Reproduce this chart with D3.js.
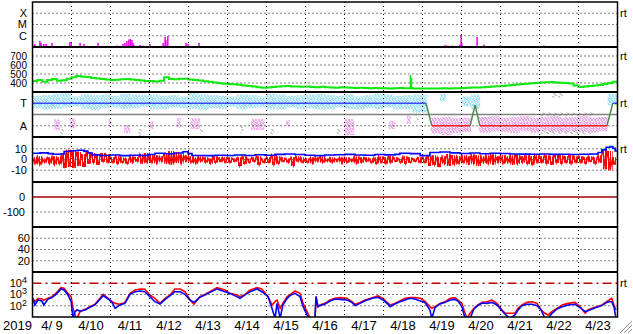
<!DOCTYPE html>
<html>
<head>
<meta charset="utf-8" />
<script src="https://d3js.org/d3.v7.min.js"></script>
<style>
  body { margin: 0; background: #fff; }
  svg text { font-family: "Liberation Sans", Arial, sans-serif; fill: #000; }
</style>
</head>
<body>
<svg id="chart"></svg>
<script>
// ---- data (time in days since 2019-04-09 00:00) ----
var dayLabels = ["4/ 9","4/10","4/11","4/12","4/13","4/14","4/15","4/16","4/17","4/18","4/19","4/20","4/21","4/22","4/23"];

// X-ray flux spikes above background, log10(W/m2)
var xrayTime = [0.00,0.06,0.19,0.22,0.29,0.35,0.50,0.96,0.99,1.22,1.32,1.68,2.17,2.32,2.37,2.42,2.47,2.51,2.55,2.58,2.60,2.76,2.83,3.01,3.35,3.40,3.42,3.47,3.94,3.99,4.27,9.86,10.58,10.65,10.76,10.96,10.99,11.01,11.40,11.58,11.99,13.12];
var xrayFlux = [-6.47,-6.73,-6.47,-6.64,-6.73,-6.73,-6.64,-6.56,-6.64,-6.64,-6.73,-6.64,-6.87,-6.73,-6.64,-6.47,-6.33,-6.29,-6.38,-6.64,-6.82,-6.82,-6.87,-6.73,-6.64,-6.11,-6.38,-6.02,-6.64,-6.73,-6.64,-6.91,-6.82,-6.87,-6.87,-6.78,-5.93,-6.64,-6.11,-6.78,-6.87,-6.87];

// solar wind speed (km/s), 3-hour samples
var speed = [
  422,433,414,433,444,425,430,448,
  463,478,470,467,455,450,444,440,
  433,436,441,444,438,433,428,422,
  422,418,425,463,445,441,448,446,
  440,433,428,420,414,405,397,392,
  389,385,380,372,367,360,352,348,
  350,355,360,364,367,362,360,358,
  360,356,354,358,352,350,348,352,
  350,346,344,348,345,342,344,343,
  341,340,342,344,341,343,340,339,
  339,338,340,339,341,340,342,343,
  345,348,350,350,352,356,360,365,
  368,372,378,383,388,393,397,400,
  405,408,410,406,402,400,395,372,
  356,360,367,372,378,390,400,414];
// short speed spikes
var spikeTime = [9.69, 9.72];
var spikeVal  = [490, 455];

// IMF longitude clouds [start, end, low deg, high deg]
var cyanCloud = [
  [0.00,0.25,275,375],[0.25,0.50,265,380],[0.50,0.75,270,390],[0.75,1.00,280,395],
  [1.00,1.25,290,370],[1.25,1.50,270,385],[1.50,1.75,260,380],[1.75,2.00,275,385],
  [2.00,2.25,280,375],[2.25,2.50,270,390],[2.50,2.75,275,385],[2.75,3.00,285,380],
  [3.00,3.25,265,385],[3.25,3.50,270,375],[3.50,3.75,280,380],[3.75,4.00,275,370],
  [4.00,4.25,270,395],[4.25,4.50,260,385],[4.50,4.75,275,380],[4.75,5.00,270,375],
  [5.00,5.25,285,370],[5.25,5.50,265,385],[5.50,5.75,275,380],[5.75,6.00,280,370],
  [6.00,6.25,270,390],[6.25,6.50,265,385],[6.50,6.75,280,375],[6.75,7.00,270,380],
  [7.00,7.25,275,385],[7.25,7.50,265,390],[7.50,7.75,270,380],[7.75,8.00,280,375],
  [8.00,8.25,270,385],[8.25,8.50,265,370],[8.50,8.75,275,380],[8.75,9.00,270,390],
  [9.00,9.25,280,385],[9.25,9.50,265,375],[9.50,9.75,270,380],[9.75,10.12,240,385],
  [10.45,10.60,330,390],[11.00,11.25,290,370],[11.25,11.48,270,385],[14.75,15.00,300,390]];
var pinkCloud = [
  [0.55,0.70,100,185],[0.95,1.10,115,195],[1.95,2.02,130,190],[2.35,2.50,75,140],
  [3.00,3.10,110,170],[3.70,3.80,120,200],[4.05,4.30,110,195],[5.60,5.95,100,190],
  [6.50,6.60,130,180],[8.00,8.25,60,190],[9.15,9.30,110,175],[9.60,9.70,150,215],
  [10.22,10.50,70,200],[10.50,10.75,60,205],[10.75,11.00,75,195],[11.00,11.25,85,200],
  [11.45,11.75,80,205],[11.75,12.00,90,210],[12.00,12.25,85,200],[12.25,12.50,75,205],
  [12.50,12.75,90,210],[12.75,13.00,80,200],[13.00,13.25,95,205],[13.25,13.50,85,210],
  [13.50,13.75,80,200],[13.75,14.00,90,205],[14.00,14.25,85,210],[14.25,14.50,80,200],
  [14.50,14.75,90,205]];
var grayCloud = [
  [0.70,0.80,60,120],[2.70,2.80,50,110],[4.30,4.40,70,120],[5.30,5.40,80,130],
  [6.10,6.20,60,110],[7.80,7.90,70,115],[9.85,9.95,180,225],[13.00,14.40,60,240],
  [13.30,13.60,360,400]];

// sector state line
var sectorTime = [0, 10.09, 10.24, 11.22, 11.35, 11.47, 14.73, 14.88, 15];
var sectorPhi  = [315, 315, 135, 135, 301, 135, 135, 315, 315];

// IMF Bt (nT)
var btTime = [0,0.19,0.40,0.53,0.71,0.81,0.96,1.17,1.32,1.42,1.53,1.73,1.99,2.24,2.50,2.76,2.96,3.14,3.40,3.65,3.86,3.99,4.09,4.42,4.68,4.94,5.19,5.45,5.71,5.96,6.22,6.47,6.73,6.99,7.24,7.50,7.76,8.01,8.27,8.53,8.78,9.04,9.29,9.42,9.68,9.94,10.19,10.45,10.71,10.96,11.22,11.47,11.73,11.99,12.24,12.50,12.76,13.01,13.27,13.53,13.78,14.04,14.29,14.50,14.60,14.71,14.81,14.88,14.94,15];
var btVal  = [5.8,6.2,5.5,4.9,5.2,7.5,8.2,8.6,7.8,6.0,4.3,3.8,4.2,3.6,4.0,3.8,4.6,5.8,5.4,6.0,7.3,5.5,3.8,3.6,4.0,3.7,4.2,3.8,4.4,4.0,4.8,5.2,4.6,4.0,3.6,4.2,4.5,4.8,4.2,4.0,4.6,4.3,4.8,5.8,5.5,3.6,6.5,7.0,6.2,5.6,6.0,5.4,5.8,5.6,5.2,5.0,4.9,5.2,4.8,4.9,4.6,4.9,5.2,6.5,9.0,11.5,12.0,10.5,8.0,8.0];

// IMF Bz envelope (nT), 3-hour bins
var bzHi = [
  2,3,1,2,3,2,6,9, 8,7,5,7,6,4,6,5, 2,3,2,1,3,2,5,6, 5,4,3,6,8,7,5,4,
  3,2,3,2,1,3,2,2, 2,1,2,3,1,2,3,1, 2,4,3,2,1,2,3,2, 1,2,2,3,1,2,1,2,
  2,1,3,2,2,1,2,3, 2,3,2,1,3,2,1,2, 2,3,4,2,3,5,4,3, 4,3,5,4,3,4,5,3,
  4,3,4,5,3,4,3,4, 3,4,3,5,4,3,4,3, 3,2,3,2,4,10,8,2];
var bzLo = [
  -4,-5,-3,-4,-5,-4,-8,-7, -8,-6,-7,-4,-3,-5,-2,-3, -3,-4,-3,-4,-3,-2,-4,-3, -3,-4,-2,-4,-5,-3,-4,-2,
  -3,-4,-2,-3,-4,-3,-2,-3, -3,-2,-6,-4,-3,-2,-5,-3, -3,-5,-4,-2,-3,-6,-2,-3, -3,-4,-2,-3,-2,-3,-2,-4,
  -3,-2,-4,-3,-2,-3,-4,-3, -4,-3,-2,-3,-4,-3,-2,-3, -3,-6,-5,-7,-4,-6,-5,-4, -3,-5,-4,-6,-3,-4,-5,-3,
  -4,-3,-5,-4,-3,-4,-5,-3, -3,-4,-5,-3,-4,-3,-4,-3, -3,-4,-2,-4,-3,-9,-10,-5];

// electron flux, log10
var fluxTime = [0.01,0.06,0.14,0.24,0.29,0.40,0.50,0.60,0.73,0.81,0.91,0.99,1.04,1.09,1.14,1.22,1.35,1.47,1.60,1.73,1.81,1.94,2.04,2.12,2.24,2.37,2.50,2.63,2.76,2.88,3.01,3.14,3.27,3.40,3.53,3.65,3.78,3.91,4.04,4.14,4.29,4.42,4.55,4.73,4.94,5.06,5.24,5.32,5.45,5.58,5.76,5.88,6.04,6.14,6.22,6.27,6.35,6.42,6.53,6.60,6.73,6.86,6.94,7.04,7.12,7.19,7.24,7.27,7.32,7.37,7.50,7.63,7.76,7.88,8.06,8.19,8.27,8.40,8.53,8.71,8.86,8.99,9.09,9.17,9.29,9.42,9.55,9.68,9.81,9.94,10.06,10.19,10.24,10.32,10.45,10.58,10.71,10.83,10.91,11.01,11.09,11.14,11.22,11.32,11.42,11.53,11.65,11.78,11.91,12.04,12.12,12.24,12.37,12.45,12.55,12.68,12.81,12.94,13.04,13.14,13.22,13.32,13.45,13.58,13.73,13.91,14.04,14.17,14.24,14.35,14.47,14.60,14.72,14.79,14.85,14.91,14.96];
var fluxRed  = [2.66,2.36,2.66,2.60,2.51,2.66,2.81,3.10,3.61,3.55,3.10,2.81,1.77,1.18,0.88,1.47,1.68,1.92,2.13,2.66,3.01,2.66,2.36,2.21,2.13,2.30,3.10,3.40,3.49,3.46,2.96,2.66,2.21,2.66,2.96,3.49,3.49,3.25,2.51,2.13,2.81,3.01,3.25,3.61,3.40,3.10,2.96,2.81,3.01,3.40,3.61,3.49,2.81,2.07,2.36,2.51,1.77,2.21,2.81,2.96,3.31,3.10,2.21,1.47,0.88,0.59,0.59,2.81,1.92,2.07,2.21,2.51,2.66,2.72,2.66,2.36,2.13,2.30,2.51,2.72,2.87,2.66,2.30,2.07,2.21,2.42,2.66,2.72,2.72,2.66,2.42,1.92,1.77,1.92,2.21,2.36,2.66,2.72,2.51,2.21,1.33,0.88,1.33,1.77,2.07,2.30,2.36,2.51,2.21,1.62,1.33,1.33,1.33,1.77,2.07,2.30,2.36,2.21,1.62,1.33,1.18,1.47,1.77,2.07,2.21,2.30,1.92,1.33,1.62,1.77,1.92,2.07,2.36,2.51,2.66,2.07,1.62];
var fluxBlue = [2.66,2.07,2.51,2.42,2.07,2.60,2.72,3.01,3.49,3.40,2.96,2.36,0.88,1.47,1.62,1.53,1.62,1.86,2.07,2.57,2.90,2.60,2.30,1.77,2.07,2.21,3.01,3.25,3.31,3.25,2.81,2.36,2.16,2.57,2.90,3.25,3.25,3.01,2.51,2.30,2.75,2.96,3.19,3.49,3.25,3.10,2.81,2.66,2.96,3.25,3.49,3.25,2.81,1.77,0.88,2.21,0.88,2.07,2.66,2.90,3.10,2.81,1.92,1.18,0.88,0.59,0.59,2.81,1.92,2.01,2.16,2.42,2.60,2.57,2.51,2.30,2.01,2.21,2.45,2.66,2.75,2.51,2.21,1.92,2.16,2.36,2.51,2.66,2.60,2.42,2.30,1.62,0.88,1.83,2.16,2.30,2.51,2.57,2.42,1.92,0.88,1.03,0.88,1.71,2.01,2.24,2.21,2.30,2.07,1.56,1.24,0.88,1.18,1.62,2.01,2.13,2.13,2.01,1.62,0.88,0.88,1.33,1.71,1.92,2.07,2.13,1.83,1.47,1.56,1.71,1.86,2.01,2.30,2.36,2.36,1.92,0.88];

// ---- layout ----
var width = 633, height = 334;
var plotL = 32.5, plotR = 617.5, plotT = 2, ph = 45;
function pTop(i) { return plotT + ph * i; }

var svg = d3.select("#chart").attr("width", width).attr("height", height);
var x = d3.scaleLinear().domain([0, 15]).range([plotL, plotR]);

var yX   = d3.scaleLinear().domain([-7, -3]).range([pTop(1), pTop(0)]);
var ySpd = d3.scaleLinear().domain([300, 800]).range([pTop(2), pTop(1)]);
var yPhi = d3.scaleLinear().domain([45, 405]).range([pTop(3), pTop(2)]);
var yB   = d3.scaleLinear().domain([-21, 21]).range([pTop(4), pTop(3)]);
var yDst = d3.scaleLinear().domain([-200, 100]).range([pTop(5), pTop(4)]);
var yKp  = d3.scaleLinear().domain([0, 80]).range([pTop(6), pTop(5)]);
var yE   = d3.scaleLinear().domain([1, 5]).range([pTop(7), pTop(6)]);

var defs = svg.append("defs");
for (var i = 0; i < 7; i++) {
  defs.append("clipPath").attr("id", "clip" + i)
    .append("rect").attr("x", plotL).attr("y", pTop(i)).attr("width", plotR - plotL).attr("height", ph);
}

// speckle patterns for the scatter clouds
var speck = [[0,0,2,1],[3,0,2,1],[5,1,1,2],[1,1,2,1],[0,2,1,1],[2,2,3,1],[1,3,2,1],[4,3,2,1],[0,4,1,2],[2,4,2,1],[5,4,1,1],[1,5,1,1],[3,5,2,1]];
function pattern(id, color, cells, w, h) {
  var p = defs.append("pattern").attr("id", id).attr("patternUnits", "userSpaceOnUse")
    .attr("width", w || 6).attr("height", h || 6);
  p.selectAll("rect").data(cells).join("rect")
    .attr("x", d => d[0]).attr("y", d => d[1]).attr("width", d => d[2]).attr("height", d => d[3])
    .attr("fill", color);
}
pattern("pCyan", "#a0e2f6", speck);
pattern("pPink", "#f0aaee", speck);
pattern("pGray", "#c4c4c4", speck.filter((d, i) => i % 3 == 0));
// vertical strokes for the dense Bz trace
pattern("pBz", "#ff0000", [[0,0,2,3],[3,0,1,3],[5,0,2,3],[8,0,1,3],[10,0,1,3]], 12, 3);

function dotted(g, y, vals) {
  g.selectAll(null).data(vals).join("line")
    .attr("x1", plotL).attr("x2", plotR).attr("y1", d => y(d)).attr("y2", d => y(d))
    .attr("stroke", "#000").attr("stroke-width", 1).attr("stroke-dasharray", "1,3");
}
function leftLabels(vals, labels, y, xpos, size) {
  svg.append("g").selectAll("text").data(vals).join("text")
    .attr("x", xpos).attr("y", d => y(d)).attr("dy", "0.36em")
    .attr("text-anchor", "end").style("font-size", (size || 11) + "px")
    .text((d, i) => labels[i]);
}

// ---- panel 1: X-ray ----
var g1 = svg.append("g").attr("clip-path", "url(#clip0)");
g1.selectAll("line").data(xrayTime).join("line")
  .attr("x1", d => x(d)).attr("x2", d => x(d))
  .attr("y1", yX(-7.2)).attr("y2", (d, i) => yX(xrayFlux[i]))
  .attr("stroke", "#f000f0").attr("stroke-width", 1.5);
dotted(svg.append("g"), yX, [-4, -5, -6]);
leftLabels([-4, -5, -6], ["X", "M", "C"], yX, 27);

// ---- panel 2: speed ----
var g2 = svg.append("g").attr("clip-path", "url(#clip1)");
dotted(g2, ySpd, [700, 600, 500, 400]);
var spdPts = speed.map((v, i) => [i / 8, v]).concat([[15, speed[speed.length - 1]]]);
g2.append("path").datum(spdPts)
  .attr("d", d3.line().x(d => x(d[0])).y(d => ySpd(d[1])).curve(d3.curveStepAfter))
  .attr("fill", "none").attr("stroke", "#10e810").attr("stroke-width", 2);
g2.selectAll(".spk").data(spikeTime).join("line").attr("class", "spk")
  .attr("x1", d => x(d)).attr("x2", d => x(d))
  .attr("y1", ySpd(341)).attr("y2", (d, i) => ySpd(spikeVal[i]))
  .attr("stroke", "#10e810").attr("stroke-width", 1.5);
leftLabels([700, 600, 500, 400], ["700", "600", "500", "400"], ySpd, 27, 10);

// ---- panel 3: IMF sector ----
var g3 = svg.append("g").attr("clip-path", "url(#clip2)");
function cloud(data, fill) {
  g3.append("g").selectAll("rect").data(data).join("rect")
    .attr("x", d => x(d[0])).attr("width", d => x(d[1]) - x(d[0]))
    .attr("y", d => yPhi(d[3])).attr("height", d => yPhi(d[2]) - yPhi(d[3]))
    .attr("fill", fill);
}
cloud(grayCloud, "url(#pGray)");
cloud(pinkCloud, "url(#pPink)");
cloud(cyanCloud, "url(#pCyan)");
g3.append("line").attr("x1", plotL).attr("x2", plotR).attr("y1", yPhi(225)).attr("y2", yPhi(225))
  .attr("stroke", "#808080").attr("stroke-width", 1.5);
dotted(g3, yPhi, [135]);
var segs = d3.range(sectorTime.length - 1).map(i => [sectorTime[i], sectorPhi[i], sectorTime[i + 1], sectorPhi[i + 1]]);
g3.selectAll(".seg").data(segs).join("line").attr("class", "seg")
  .attr("x1", d => x(d[0])).attr("y1", d => yPhi(d[1])).attr("x2", d => x(d[2])).attr("y2", d => yPhi(d[3]))
  .attr("stroke", d => (d[1] == 315 && d[3] == 315) ? "#3a4cff" : (d[1] == 135 && d[3] == 135) ? "#ff2020" : "#4e8a4e")
  .attr("stroke-width", 1.5);
leftLabels([315, 135], ["T", "A"], yPhi, 27);

// ---- panel 4: IMF B ----
var g4 = svg.append("g").attr("clip-path", "url(#clip3)");
dotted(g4, yB, [10, 0, -10]);
var bzBins = bzHi.map((v, i) => [i / 8, v, bzLo[i]]).concat([[15, bzHi[bzHi.length - 1], bzLo[bzLo.length - 1]]]);
g4.append("path").datum(bzBins)
  .attr("d", d3.area().x(d => x(d[0])).y0(d => yB(d[2])).y1(d => yB(d[1])).curve(d3.curveStepAfter))
  .attr("fill", "url(#pBz)");
var bzZig = [];
bzHi.forEach((v, i) => { bzZig.push([i / 8, v]); bzZig.push([i / 8 + 1 / 16, bzLo[i]]); });
g4.append("path").datum(bzZig)
  .attr("d", d3.line().x(d => x(d[0])).y(d => yB(d[1])))
  .attr("fill", "none").attr("stroke", "#ff0000").attr("stroke-width", 1.3);
g4.append("path").datum(btTime.map((t, i) => [t, btVal[i]]))
  .attr("d", d3.line().x(d => x(d[0])).y(d => yB(d[1])).curve(d3.curveStepAfter))
  .attr("fill", "none").attr("stroke", "#0000ff").attr("stroke-width", 1.6);
leftLabels([10, 0, -10], ["10", "0", "-10"], yB, 27);

// ---- panel 5 ----
var g5 = svg.append("g").attr("clip-path", "url(#clip4)");
dotted(g5, yDst, [-100]);
g5.append("line").attr("x1", plotL).attr("x2", plotR).attr("y1", yDst(0)).attr("y2", yDst(0))
  .attr("stroke", "#a80000").attr("stroke-width", 1.5);
leftLabels([0, -100], ["0", "-100"], yDst, 25);

// ---- panel 6 ----
var g6 = svg.append("g").attr("clip-path", "url(#clip5)");
dotted(g6, yKp, [60, 40, 20]);
leftLabels([60, 40, 20], ["60", "40", "20"], yKp, 30);

// ---- panel 7: electrons ----
var g7 = svg.append("g").attr("clip-path", "url(#clip6)");
dotted(g7, yE, [3, 2]);
g7.append("line").attr("x1", plotL).attr("x2", plotR).attr("y1", yE(4)).attr("y2", yE(4))
  .attr("stroke", "#c00000").attr("stroke-width", 1.6).attr("stroke-dasharray", "9,4,2,4");
var fLine = d3.line().x(d => x(d[0])).y(d => yE(d[1]));
g7.append("path").datum(fluxTime.map((t, i) => [t, fluxRed[i]])).attr("d", fLine)
  .attr("fill", "none").attr("stroke", "#ff0000").attr("stroke-width", 1.6);
g7.append("path").datum(fluxTime.map((t, i) => [t, fluxBlue[i]])).attr("d", fLine)
  .attr("fill", "none").attr("stroke", "#0000ff").attr("stroke-width", 1.6);
var eLab = svg.append("g").selectAll("text").data([4, 3, 2]).join("text")
  .attr("x", 27).attr("y", d => yE(d)).attr("dy", "0.36em").attr("text-anchor", "end")
  .style("font-size", "11px");
eLab.append("tspan").text("10");
eLab.append("tspan").attr("dy", "-4").style("font-size", "9px").text(d => d);

// ---- day grid + frame ----
svg.append("g").selectAll("line").data(d3.range(1, 15)).join("line")
  .attr("x1", d => x(d)).attr("x2", d => x(d)).attr("y1", plotT).attr("y2", pTop(7))
  .attr("stroke", "#000").attr("stroke-width", 1).attr("stroke-dasharray", "1,3");

svg.append("rect").attr("x", plotL).attr("y", plotT).attr("width", plotR - plotL).attr("height", ph * 7)
  .attr("fill", "none").attr("stroke", "#000").attr("stroke-width", 1.5);
svg.append("g").selectAll("line").data(d3.range(1, 7)).join("line")
  .attr("x1", plotL).attr("x2", plotR).attr("y1", d => pTop(d)).attr("y2", d => pTop(d))
  .attr("stroke", "#000").attr("stroke-width", 2);

// right-side "rt" marks
svg.append("g").selectAll("text").data([yX(-4), ySpd(700), yPhi(315), yB(10), yE(4)]).join("text")
  .attr("x", 620).attr("y", d => d).attr("dy", "0.36em").style("font-size", "11px").text("rt");

// bottom labels
svg.append("text").attr("x", 3).attr("y", 330).style("font-size", "13px").text("2019");
svg.append("g").selectAll("text").data(dayLabels).join("text")
  .attr("x", (d, i) => x(i + 0.5)).attr("y", 330).attr("text-anchor", "middle")
  .style("font-size", "13px").text(d => d);

// window resize grip
svg.append("g").selectAll("line").data([0, 4, 8]).join("line")
  .attr("x1", d => 620 + d).attr("y1", 333).attr("x2", 632).attr("y2", d => 321 + d)
  .attr("stroke", "#909090").attr("stroke-width", 1);
</script>
</body>
</html>
